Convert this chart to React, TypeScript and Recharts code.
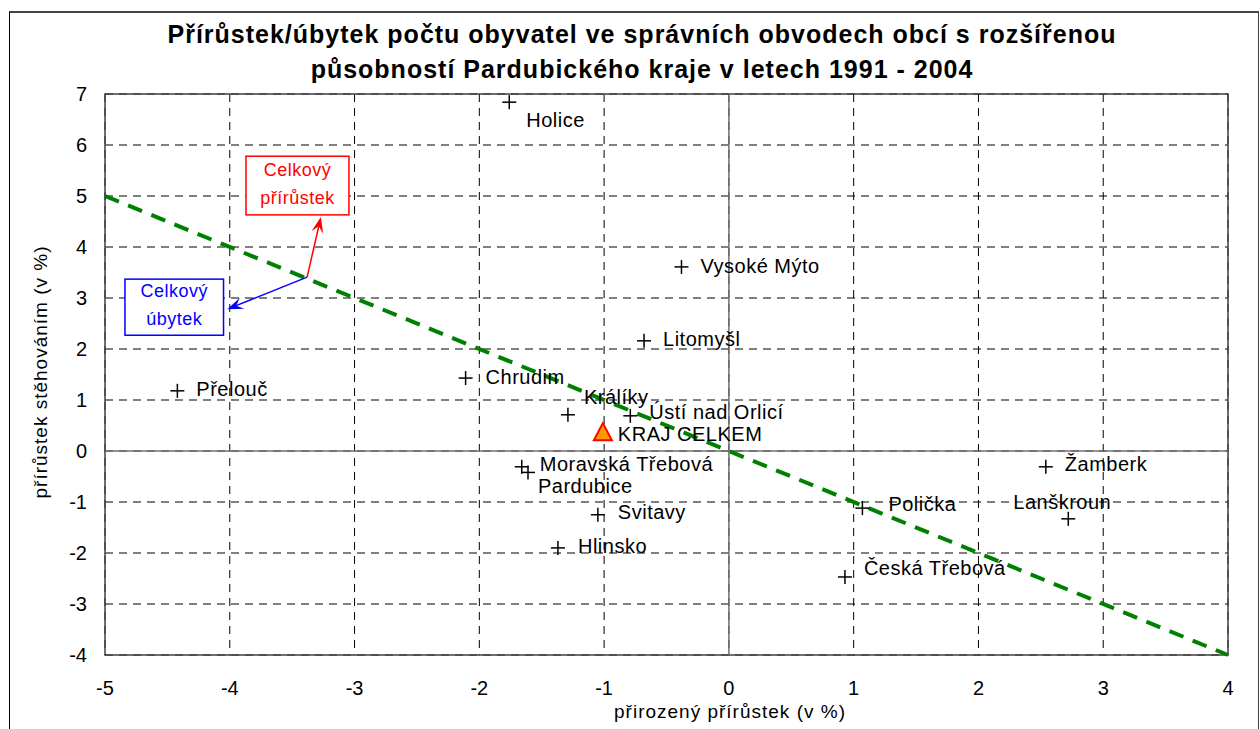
import {
    ScatterChart, Scatter, XAxis, YAxis, CartesianGrid, ReferenceLine, ReferenceArea,
} from 'recharts';

const FONT = '"Liberation Sans", Arial, sans-serif';

// obvody ORP - přirozený přírůstek (x) a přírůstek stěhováním (y), v %
const towns = [
    'Holice', 'Vysoké Mýto', 'Litomyšl', 'Přelouč', 'Chrudim', 'Králíky', 'Ústí nad Orlicí',
    'Moravská Třebová', 'Pardubice', 'Svitavy', 'Hlinsko', 'Polička', 'Žamberk', 'Lanškroun',
    'Česká Třebová',
];
const naturalGrowth = [
    -1.76, -0.38, -0.68, -4.42, -2.11, -1.29, -0.79,
    -1.66, -1.61, -1.05, -1.37, 1.07, 2.54, 2.72,
    0.93,
];
const migrationGrowth = [
    6.84, 3.61, 2.16, 1.18, 1.43, 0.71, 0.69,
    -0.31, -0.42, -1.25, -1.90, -1.12, -0.31, -1.33,
    -2.47,
];

const regionName = 'KRAJ CELKEM';
const regionNatural = -1.01;
const regionMigration = 0.37;

const xTicks = [-5, -4, -3, -2, -1, 0, 1, 2, 3, 4];
const yTicks = [-4, -3, -2, -1, 0, 1, 2, 3, 4, 5, 6, 7];

// hranice nulového celkového přírůstku
const zeroLine = [{ x: -5, y: 5 }, { x: 4, y: -4 }];

// popisky a šipky
const growthArrow = [{ x: -3.38, y: 3.41 }, { x: -3.27, y: 4.59 }];
const lossArrow = [{ x: -3.38, y: 3.41 }, { x: -4.02, y: 2.78 }];

const labelOffsets: Record<string, [number, number]> = {
    'Holice': [17, 18],
    'Vysoké Mýto': [19, -1],
    'Litomyšl': [19, -2],
    'Přelouč': [19, -2],
    'Chrudim': [20, -1],
    'Králíky': [16, -18],
    'Ústí nad Orlicí': [19, -4],
    'Moravská Třebová': [18, -3],
    'Pardubice': [10, 14],
    'Svitavy': [20, -3],
    'Hlinsko': [20, -2],
    'Polička': [26, -4],
    'Žamberk': [19, -3],
    'Lanškroun': [-55, -17],
    'Česká Třebová': [19, -9],
    'KRAJ CELKEM': [15, 2],
};

const townData = towns.map((name, i) => ({ name, x: naturalGrowth[i], y: migrationGrowth[i] }));
const regionData = [{ name: regionName, x: regionNatural, y: regionMigration }];

function PointLabel({ cx, cy, name }: { cx: number; cy: number; name: string }) {
    const [dx, dy] = labelOffsets[name] ?? [18, -2];
    return (
        <text x={cx + dx} y={cy + dy} dominantBaseline="central" fontSize={20} letterSpacing={0.5}
            fontFamily={FONT} fill="#000">{name}</text>
    );
}

function Cross(props: any) {
    const { cx, cy, payload } = props;
    return (
        <g>
            <line x1={cx - 7} x2={cx + 7} y1={cy} y2={cy} stroke="#000" strokeWidth={1.5} />
            <line x1={cx} x2={cx} y1={cy - 7} y2={cy + 7} stroke="#000" strokeWidth={1.5} />
            <PointLabel cx={cx} cy={cy} name={payload.name} />
        </g>
    );
}

function Triangle(props: any) {
    const { cx, cy, payload } = props;
    return (
        <g>
            <polygon points={`${cx},${cy - 9} ${cx + 9},${cy + 8} ${cx - 9},${cy + 8}`}
                fill="#ff9900" stroke="#ff0000" strokeWidth={2} />
            <PointLabel cx={cx} cy={cy} name={payload.name} />
        </g>
    );
}

function arrowShape(color: string) {
    return (p: any) => {
        const { x1, y1, x2, y2 } = p;
        const ang = Math.atan2(y2 - y1, x2 - x1);
        const len = 16;
        const w = 6;
        const bx = x2 - len * Math.cos(ang);
        const by = y2 - len * Math.sin(ang);
        const mx = x2 - len * 0.6 * Math.cos(ang);
        const my = y2 - len * 0.6 * Math.sin(ang);
        const nx = -Math.sin(ang) * w;
        const ny = Math.cos(ang) * w;
        return (
            <g>
                <line x1={x1} y1={y1} x2={mx} y2={my} stroke={color} strokeWidth={1.5} />
                <polygon points={`${x2},${y2} ${bx + nx},${by + ny} ${mx},${my} ${bx - nx},${by - ny}`}
                    fill={color} />
            </g>
        );
    };
}

function boxShape(color: string, lines: string[]) {
    return (p: any) => {
        const { x, y, width, height } = p;
        return (
            <g>
                <rect x={x} y={y} width={width} height={height} fill="#fff" stroke={color} strokeWidth={1.5} />
                {lines.map((t, i) => (
                    <text key={t} x={x + width / 2} y={y + height / 2 + (i - 0.5) * 28 - 2}
                        textAnchor="middle" dominantBaseline="central" fontSize={18} letterSpacing={0.5}
                        fontFamily={FONT} fill={color}>{t}</text>
                ))}
            </g>
        );
    };
}

function XTick({ x, y, payload }: any) {
    return (
        <text x={x} y={y} dy={32} textAnchor="middle" fontSize={20} fontFamily={FONT} fill="#000">
            {payload.value}
        </text>
    );
}

function YTick({ x, y, payload }: any) {
    return (
        <text x={x} y={y} dx={-10} textAnchor="end" dominantBaseline="central" fontSize={20} fontFamily={FONT} fill="#000">
            {payload.value}
        </text>
    );
}

export default function App() {
    return (
        <div style={{ position: 'absolute', left: 0, top: 0, width: 1260, height: 729, background: '#fff', overflow: 'hidden' }}>
            <div style={{ position: 'absolute', left: 9, top: 11, width: 1248, height: 740, borderLeft: '1.5px solid #000', borderTop: '2px solid #444', borderRight: '1px solid #444' }} />
            <div style={{ position: 'absolute', left: 0, top: 0, width: '100%', textAlign: 'center', fontFamily: FONT, fontWeight: 'bold', fontSize: 25, letterSpacing: 1, lineHeight: '35px', paddingTop: 17, paddingLeft: 24, boxSizing: 'border-box' }}>
                Přírůstek/úbytek počtu obyvatel ve správních obvodech obcí s rozšířenou<br />
                působností Pardubického kraje v letech 1991 - 2004
            </div>
            <div style={{ position: 'absolute', left: 0, top: 0 }}>
                <ScatterChart width={1260} height={729} margin={{ top: 94, right: 32, bottom: 24, left: 45 }}>
                    <CartesianGrid stroke="#000" strokeDasharray="8 6" strokeWidth={1} />
                    <XAxis type="number" dataKey="x" domain={[-5, 4]} ticks={xTicks} allowDataOverflow
                        axisLine={false} tickLine={false} tick={<XTick />} height={50} />
                    <YAxis type="number" dataKey="y" domain={[-4, 7]} ticks={yTicks} allowDataOverflow
                        axisLine={false} tickLine={false} tick={<YTick />} width={60} />
                    <ReferenceArea x1={-5} x2={4} y1={-4} y2={7} fill="none" stroke="#404040" strokeWidth={1.5} />
                    <ReferenceLine x={0} stroke="#707070" strokeWidth={1.5} />
                    <ReferenceLine y={0} stroke="#707070" strokeWidth={1.5} />
                    <ReferenceLine segment={zeroLine} stroke="#008000" strokeWidth={4} strokeDasharray="15 10" />
                    <ReferenceArea x1={-3.87} x2={-3.045} y1={4.63} y2={5.78} shape={boxShape('#ff0000', ['Celkový', 'přírůstek'])} />
                    <ReferenceArea x1={-4.84} x2={-4.05} y1={2.27} y2={3.37} shape={boxShape('#0000ff', ['Celkový', 'úbytek'])} />
                    <ReferenceLine segment={growthArrow} shape={arrowShape('#ff0000')} />
                    <ReferenceLine segment={lossArrow} shape={arrowShape('#0000ff')} />
                    <Scatter data={townData} shape={<Cross />} isAnimationActive={false} />
                    <Scatter data={regionData} shape={<Triangle />} isAnimationActive={false} />
                </ScatterChart>
            </div>
            <div style={{ position: 'absolute', left: 730, top: 701, transform: 'translateX(-50%)', whiteSpace: 'nowrap', fontFamily: FONT, fontSize: 19, letterSpacing: 1 }}>
                přirozený přírůstek (v %)
            </div>
            <div style={{ position: 'absolute', left: 41, top: 372, transform: 'translate(-50%, -50%) rotate(-90deg)', whiteSpace: 'nowrap', fontFamily: FONT, fontSize: 19, letterSpacing: 1 }}>
                přírůstek stěhováním (v %)
            </div>
        </div>
    );
}
